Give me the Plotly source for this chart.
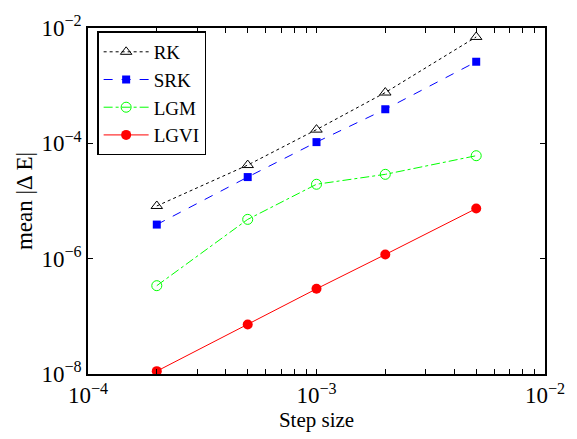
import plotly.graph_objects as go

# Step sizes and mean energy error for each integrator
step = [2e-4, 5e-4, 1e-3, 2e-3, 5e-3]
rk = [8.2e-6, 4.2e-5, 1.73e-4, 7.6e-4, 7.0e-3]
srk = [3.9e-6, 2.6e-5, 1.05e-4, 3.9e-4, 2.6e-3]
lgm = [3.4e-7, 4.8e-6, 1.95e-5, 2.9e-5, 6.1e-5]
lgvi = [1.12e-8, 7.2e-8, 3.0e-7, 1.18e-6, 7.4e-6]

# x ticks: labelled decades plus unlabelled 2..9 multiples
x_ticks = [m * 10.0 ** e for e in (-4, -3) for m in range(1, 10)] + [1e-2]
x_text = [("10<sup>\u2212%d</sup>" % -e) if m == 1 else ""
          for e in (-4, -3) for m in range(1, 10)] + ["10<sup>\u22122</sup>"]
y_ticks = [1e-8, 1e-6, 1e-4, 1e-2]
y_text = ["10<sup>\u22128</sup>", "10<sup>\u22126</sup>", "10<sup>\u22124</sup>", "10<sup>\u22122</sup>"]

FONT = "Liberation Serif"

fig = go.Figure()
fig.add_trace(go.Scatter(x=step, y=rk, name="RK", mode="lines+markers",
                         line=dict(color="black", width=1, dash="dot"),
                         marker=dict(symbol="triangle-up-open", size=10, color="black",
                                     line=dict(width=1))))
fig.add_trace(go.Scatter(x=step, y=srk, name="SRK", mode="lines+markers",
                         line=dict(color="#0000ff", width=1, dash="dash"),
                         marker=dict(symbol="square", size=8, color="#0000ff")))
fig.add_trace(go.Scatter(x=step, y=lgm, name="LGM", mode="lines+markers",
                         line=dict(color="#00ff00", width=1, dash="dashdot"),
                         marker=dict(symbol="circle-open", size=10, color="#00ff00",
                                     line=dict(width=1))))
fig.add_trace(go.Scatter(x=step, y=lgvi, name="LGVI", mode="lines+markers",
                         line=dict(color="#ff0000", width=1),
                         marker=dict(symbol="circle", size=10, color="#ff0000")))

fig.update_layout(
    width=577, height=439,
    margin=dict(l=88, r=30, t=20, b=65),
    paper_bgcolor="white", plot_bgcolor="white",
    font=dict(family=FONT, size=19, color="black"),
    legend=dict(x=0.02, y=0.99, xanchor="left", yanchor="top",
                bordercolor="black", borderwidth=1.5, bgcolor="white",
                font=dict(family=FONT, size=19, color="black"), tracegroupgap=0,
                itemwidth=45),
    showlegend=True,
)
fig.update_xaxes(type="log", range=[-4, -2], tickvals=x_ticks, ticktext=x_text,
                 ticks="inside", ticklen=5, tickcolor="black", showgrid=False,
                 showline=True, linecolor="black", linewidth=1.5, mirror="ticks",
                 zeroline=False,
                 title=dict(text="Step size", standoff=2,
                            font=dict(family=FONT, size=21, color="black")),
                 tickfont=dict(family=FONT, size=23, color="black"))
fig.update_yaxes(type="log", range=[-8, -2], tickvals=y_ticks, ticktext=y_text,
                 ticks="inside", ticklen=5, tickcolor="black", showgrid=False,
                 showline=True, linecolor="black", linewidth=1.5, mirror="ticks",
                 zeroline=False,
                 title=dict(text="mean |\u0394 E|", standoff=2,
                            font=dict(family=FONT, size=23, color="black")),
                 tickfont=dict(family=FONT, size=23, color="black"))

fig.write_html("out.html")
